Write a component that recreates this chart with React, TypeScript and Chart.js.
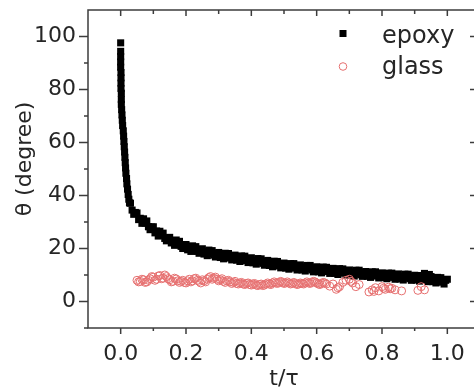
import { useEffect, useRef } from "react";
import { Chart, registerables } from "chart.js";

Chart.register(...registerables);

const FONT = "'DejaVu Sans', 'Liberation Sans', Arial, sans-serif";
const TEXT_COLOR = "#262626";
const AXIS_COLOR = "#3c3c3c";
const GLASS_COLOR = "rgb(230,112,112)";

const xMajorTicks = [0, 0.2, 0.4, 0.6, 0.8, 1.0];
const xMinorTicks = [0.1, 0.3, 0.5, 0.7, 0.9];
const yMajorTicks = [0, 20, 40, 60, 80, 100];
const yMinorTicks = [-10, 10, 30, 50, 70, 90];

const xTitle = "t/τ";
const yTitle = "θ (degree)";
const seriesNames = ["epoxy", "glass"];

const epoxyT = [
  0.0, 0.0, 0.0, 0.0, 0.0, 0.001, 0.001, 0.001, 0.001, 0.002, 0.002, 0.002, 0.003, 0.004, 0.005, 0.006,
  0.008, 0.009, 0.01, 0.011, 0.012, 0.013, 0.014, 0.015, 0.016, 0.018, 0.019, 0.021, 0.023, 0.025, 0.027,
  0.03, 0.035, 0.04, 0.045, 0.05, 0.055, 0.06, 0.065, 0.07, 0.075, 0.08, 0.085, 0.09, 0.095,
  0.1, 0.105, 0.11, 0.115, 0.12, 0.125, 0.13, 0.135, 0.14, 0.145, 0.15, 0.155, 0.16, 0.165, 0.17, 0.175,
  0.18, 0.185, 0.19, 0.195, 0.2, 0.205, 0.21, 0.215, 0.22, 0.225, 0.23, 0.235, 0.24, 0.245, 0.25, 0.255,
  0.26, 0.265, 0.27, 0.275, 0.28, 0.285, 0.29, 0.295, 0.3, 0.305, 0.31, 0.315, 0.32, 0.325, 0.33, 0.335,
  0.34, 0.345, 0.35, 0.355, 0.36, 0.365, 0.37, 0.375, 0.38, 0.385, 0.39, 0.395, 0.4, 0.405, 0.41, 0.415,
  0.42, 0.425, 0.43, 0.435, 0.44, 0.445, 0.45, 0.455, 0.46, 0.465, 0.47, 0.475, 0.48, 0.485, 0.49, 0.495,
  0.5, 0.505, 0.51, 0.515, 0.52, 0.525, 0.53, 0.535, 0.54, 0.545, 0.55, 0.555, 0.56, 0.565, 0.57, 0.575,
  0.58, 0.585, 0.59, 0.595, 0.6, 0.605, 0.61, 0.615, 0.62, 0.625, 0.63, 0.635, 0.64, 0.645, 0.65, 0.655,
  0.66, 0.665, 0.67, 0.675, 0.68, 0.685, 0.69, 0.695, 0.7, 0.705, 0.71, 0.715, 0.72, 0.725, 0.73, 0.735,
  0.74, 0.745, 0.75, 0.755, 0.76, 0.765, 0.77, 0.775, 0.78, 0.785, 0.79, 0.795, 0.8, 0.805, 0.81, 0.815,
  0.82, 0.825, 0.83, 0.835, 0.84, 0.845, 0.85, 0.855, 0.86, 0.865, 0.87, 0.875, 0.88, 0.885, 0.89, 0.895,
  0.9, 0.905, 0.91, 0.915, 0.92, 0.925, 0.93, 0.935, 0.94, 0.945, 0.95, 0.955, 0.96, 0.965, 0.97, 0.975,
  0.98, 0.985, 0.99, 0.995, 1.0,
];
const epoxyTheta = [
  97.6, 94.4, 92.4, 90.4, 88.4, 86.4, 84.4, 82.4, 80.4, 78.6, 76.2, 74.4, 72.4, 70.4, 68.4, 66.4,
  64.4, 62.4, 60.4, 58.4, 56.4, 54.4, 52.4, 50.4, 48.4, 46.4, 44.4, 42.4, 40.4, 38.6, 37.2,
  37.1, 34.5, 32.9, 33.6, 33.4, 30.9, 31.4, 29.5, 31.2, 29.6, 30.4, 28.2, 27.1, 28.1,
  28.2, 25.9, 26.6, 24.7, 26.5, 25.0, 25.8, 23.8, 22.9, 24.0, 24.2, 22.1, 22.9, 21.2, 23.2, 21.8,
  22.7, 20.8, 20.0, 21.2, 21.5, 19.5, 20.5, 18.9, 21.0, 19.7, 20.7, 18.9, 18.2, 19.5, 19.9, 17.9,
  18.9, 17.3, 19.4, 18.1, 19.2, 17.5, 16.8, 18.1, 18.5, 16.6, 17.6, 16.1, 18.2, 17.0, 18.1, 16.4,
  15.7, 17.1, 17.5, 15.6, 16.6, 15.1, 17.2, 16.0, 17.1, 15.4, 14.7, 16.1, 16.5, 14.6, 15.6, 14.1,
  16.2, 15.0, 16.1, 14.4, 13.7, 15.1, 15.5, 13.6, 14.6, 13.1, 15.2, 14.0, 15.1, 13.4, 12.7, 14.1,
  14.5, 12.6, 13.7, 12.2, 14.3, 13.2, 14.3, 12.6, 11.9, 13.4, 13.8, 11.9, 13.0, 11.5, 13.6, 12.5,
  13.6, 11.9, 11.2, 12.7, 13.1, 11.2, 12.3, 10.8, 13.0, 11.8, 12.9, 11.3, 10.6, 12.1, 12.5, 10.6,
  11.7, 10.2, 12.4, 11.2, 12.3, 10.7, 10.0, 11.5, 11.9, 10.0, 11.1, 9.6, 11.8, 10.6, 11.8, 10.1,
  9.5, 10.9, 11.3, 9.5, 10.5, 9.1, 11.2, 10.1, 11.2, 9.6, 8.9, 10.4, 10.8, 9.0, 10.0, 8.6,
  10.7, 9.6, 10.7, 9.1, 8.4, 9.9, 10.4, 8.5, 9.6, 8.1, 10.3, 9.1, 10.3, 8.6, 8.0, 9.5,
  9.9, 8.1, 9.1, 7.7, 9.8, 8.7, 10.6, 8.2, 7.5, 10.2, 9.4, 7.5, 8.5, 7.0, 9.1, 7.9,
  9.0, 7.3, 6.6, 8.0, 8.4,
];

const glassT = [
  0.05, 0.055, 0.06, 0.065, 0.07, 0.075, 0.08, 0.085, 0.09, 0.095, 0.1, 0.105, 0.11, 0.115, 0.12, 0.125,
  0.13, 0.135, 0.14, 0.145, 0.15, 0.155, 0.16, 0.165, 0.17, 0.175, 0.18, 0.185, 0.19, 0.195, 0.2, 0.205,
  0.21, 0.215, 0.22, 0.225, 0.23, 0.235, 0.24, 0.245, 0.25, 0.255, 0.26, 0.265, 0.27, 0.275, 0.28, 0.285,
  0.29, 0.295, 0.3, 0.305, 0.31, 0.315, 0.32, 0.325, 0.33, 0.335, 0.34, 0.345, 0.35, 0.355, 0.36, 0.365,
  0.37, 0.375, 0.38, 0.385, 0.39, 0.395, 0.4, 0.405, 0.41, 0.415, 0.42, 0.425, 0.43, 0.435, 0.44, 0.445,
  0.45, 0.455, 0.46, 0.465, 0.47, 0.475, 0.48, 0.485, 0.49, 0.495, 0.5, 0.505, 0.51, 0.515, 0.52, 0.525,
  0.53, 0.535, 0.54, 0.545, 0.55, 0.555, 0.56, 0.565, 0.57, 0.575, 0.58, 0.585, 0.59, 0.595, 0.6, 0.605,
  0.61, 0.615, 0.62, 0.625, 0.63, 0.64, 0.65, 0.66, 0.665, 0.67, 0.68, 0.69, 0.7, 0.705, 0.71, 0.72,
  0.73, 0.76, 0.77, 0.775, 0.78, 0.79, 0.8, 0.805, 0.81, 0.82, 0.825, 0.83, 0.84, 0.86, 0.91, 0.92,
  0.93,
];
const glassTheta = [
  8.0, 7.4, 7.6, 8.4, 8.2, 7.2, 7.4, 8.0, 8.6, 9.4, 9.2, 8.0, 8.4, 9.6, 9.8, 8.6,
  8.8, 10.0, 9.4, 8.6, 8.2, 7.4, 7.6, 8.8, 8.5, 7.8, 7.2, 7.6, 8.0, 7.2, 7.0, 7.8,
  8.4, 7.4, 7.8, 8.6, 8.8, 8.0, 7.6, 7.0, 8.2, 7.8, 7.4, 8.4, 9.0, 9.4, 8.4, 8.8,
  9.2, 8.4, 7.8, 8.2, 8.6, 7.6, 7.2, 7.8, 8.0, 7.4, 6.8, 7.2, 7.6, 6.8, 6.6, 7.0,
  7.2, 6.6, 6.4, 6.8, 7.0, 6.4, 6.2, 6.6, 6.8, 6.2, 6.0, 6.4, 6.6, 6.0, 6.2, 6.6,
  7.0, 6.6, 6.4, 7.0, 7.4, 7.0, 6.8, 7.2, 7.6, 7.2, 6.8, 7.0, 7.4, 7.0, 6.6, 6.8,
  7.2, 6.8, 6.4, 6.6, 7.0, 6.8, 6.6, 7.0, 7.4, 7.0, 6.8, 7.2, 7.6, 7.4, 7.0, 6.6,
  6.4, 6.8, 7.2, 7.0, 6.6, 5.8, 6.6, 4.6, 5.2, 5.6, 7.2, 8.0, 8.4, 7.6, 7.0, 5.6,
  6.4, 3.6, 4.4, 3.8, 5.2, 4.0, 5.6, 5.0, 4.6, 5.4, 4.8, 5.0, 4.4, 4.0, 4.2, 5.6,
  4.4,
];

const decorPlugin = {
  id: "decor",
  afterDraw(chart: any) {
    const { ctx, chartArea: a, scales } = chart;
    const xs = scales.x;
    const ys = scales.y;
    ctx.save();
    ctx.strokeStyle = AXIS_COLOR;
    ctx.lineWidth = 1.5;
    ctx.strokeRect(a.left, a.top, a.right - a.left, a.bottom - a.top);
    ctx.beginPath();
    xMajorTicks.forEach((v) => {
      const p = xs.getPixelForValue(v);
      ctx.moveTo(p, a.bottom);
      ctx.lineTo(p, a.bottom + 6);
      ctx.moveTo(p, a.top);
      ctx.lineTo(p, a.top + 6);
    });
    xMinorTicks.forEach((v) => {
      const p = xs.getPixelForValue(v);
      ctx.moveTo(p, a.bottom);
      ctx.lineTo(p, a.bottom + 3);
      ctx.moveTo(p, a.top);
      ctx.lineTo(p, a.top + 4);
    });
    yMajorTicks.forEach((v) => {
      const p = ys.getPixelForValue(v);
      ctx.moveTo(a.left - 9, p);
      ctx.lineTo(a.left, p);
      ctx.moveTo(a.right - 10, p);
      ctx.lineTo(a.right, p);
    });
    yMinorTicks.forEach((v) => {
      const p = ys.getPixelForValue(v);
      ctx.moveTo(a.left - 4, p);
      ctx.lineTo(a.left, p);
      ctx.moveTo(a.right - 5, p);
      ctx.lineTo(a.right, p);
    });
    ctx.stroke();

    // legend
    const lx = a.left + 255;
    ctx.fillStyle = "#000";
    ctx.fillRect(lx - 3.5, a.top + 23.5 - 3.5, 7, 7);
    ctx.strokeStyle = GLASS_COLOR;
    ctx.lineWidth = 1;
    ctx.beginPath();
    ctx.arc(lx, a.top + 56.5, 3.8, 0, Math.PI * 2);
    ctx.stroke();
    ctx.fillStyle = TEXT_COLOR;
    ctx.font = `24px ${FONT}`;
    ctx.textAlign = "left";
    ctx.textBaseline = "alphabetic";
    ctx.fillText(seriesNames[0], a.left + 294, a.top + 33);
    ctx.fillText(seriesNames[1], a.left + 294, a.top + 64);

    // y title
    ctx.font = `22px ${FONT}`;
    ctx.textAlign = "center";
    ctx.textBaseline = "middle";
    ctx.translate(25, (a.top + a.bottom) / 2 - 10);
    ctx.rotate(-Math.PI / 2);
    ctx.fillText(yTitle, 0, 0);
    ctx.restore();
  },
};

export default function App() {
  const ref = useRef<HTMLCanvasElement>(null);
  useEffect(() => {
    const chart = new Chart(ref.current as HTMLCanvasElement, {
      type: "scatter",
      data: {
        datasets: [
          {
            label: seriesNames[1],
            data: glassT.map((t, i) => ({ x: t, y: glassTheta[i] })),
            pointStyle: "circle",
            pointRadius: 4,
            backgroundColor: "rgba(0,0,0,0)",
            borderColor: GLASS_COLOR,
            borderWidth: 1,
          },
          {
            label: seriesNames[0],
            data: epoxyT.map((t, i) => ({ x: t, y: epoxyTheta[i] })),
            pointStyle: "rect",
            pointRadius: 5,
            backgroundColor: "#000",
            borderColor: "#000",
            borderWidth: 0,
          },
        ],
      },
      options: {
        responsive: false,
        animation: false,
        devicePixelRatio: 1,
        layout: { padding: { top: 10, right: 10, left: 0, bottom: 0 } },
        plugins: { legend: { display: false }, tooltip: { enabled: false } },
        scales: {
          x: {
            type: "linear",
            min: -0.1,
            max: 1.1,
            afterBuildTicks: (s: any) => {
              s.ticks = xMajorTicks.map((v) => ({ value: v }));
            },
            afterFit: (s: any) => {
              s.height = 64;
              s.paddingLeft = 0;
              s.paddingRight = 0;
            },
            grid: { display: false, drawTicks: true, tickLength: 6 },
            border: { display: false },
            ticks: {
              font: { family: FONT, size: 22 },
              color: TEXT_COLOR,
              padding: 7,
              maxRotation: 0,
              callback: (v: any) => Number(v).toFixed(1),
            },
            title: {
              display: true,
              text: xTitle,
              font: { family: FONT, size: 22 },
              color: TEXT_COLOR,
              padding: 0,
            },
          },
          y: {
            type: "linear",
            min: -10,
            max: 110,
            afterBuildTicks: (s: any) => {
              s.ticks = yMajorTicks.map((v) => ({ value: v }));
            },
            afterFit: (s: any) => {
              s.width = 88;
              s.paddingTop = 0;
              s.paddingBottom = 0;
            },
            grid: { display: false, drawTicks: true, tickLength: 9 },
            border: { display: false },
            ticks: {
              font: { family: FONT, size: 22 },
              color: TEXT_COLOR,
              padding: 3,
              callback: (v: any) => String(v),
            },
          },
        },
      },
      plugins: [decorPlugin],
    });
    return () => chart.destroy();
  }, []);
  return (
    <div
      style={{
        position: "absolute",
        left: 0,
        top: 0,
        width: 474,
        height: 392,
        overflow: "hidden",
        background: "#fff",
      }}
    >
      <canvas ref={ref} width={490} height={392} style={{ display: "block", width: 490, height: 392 }} />
    </div>
  );
}
